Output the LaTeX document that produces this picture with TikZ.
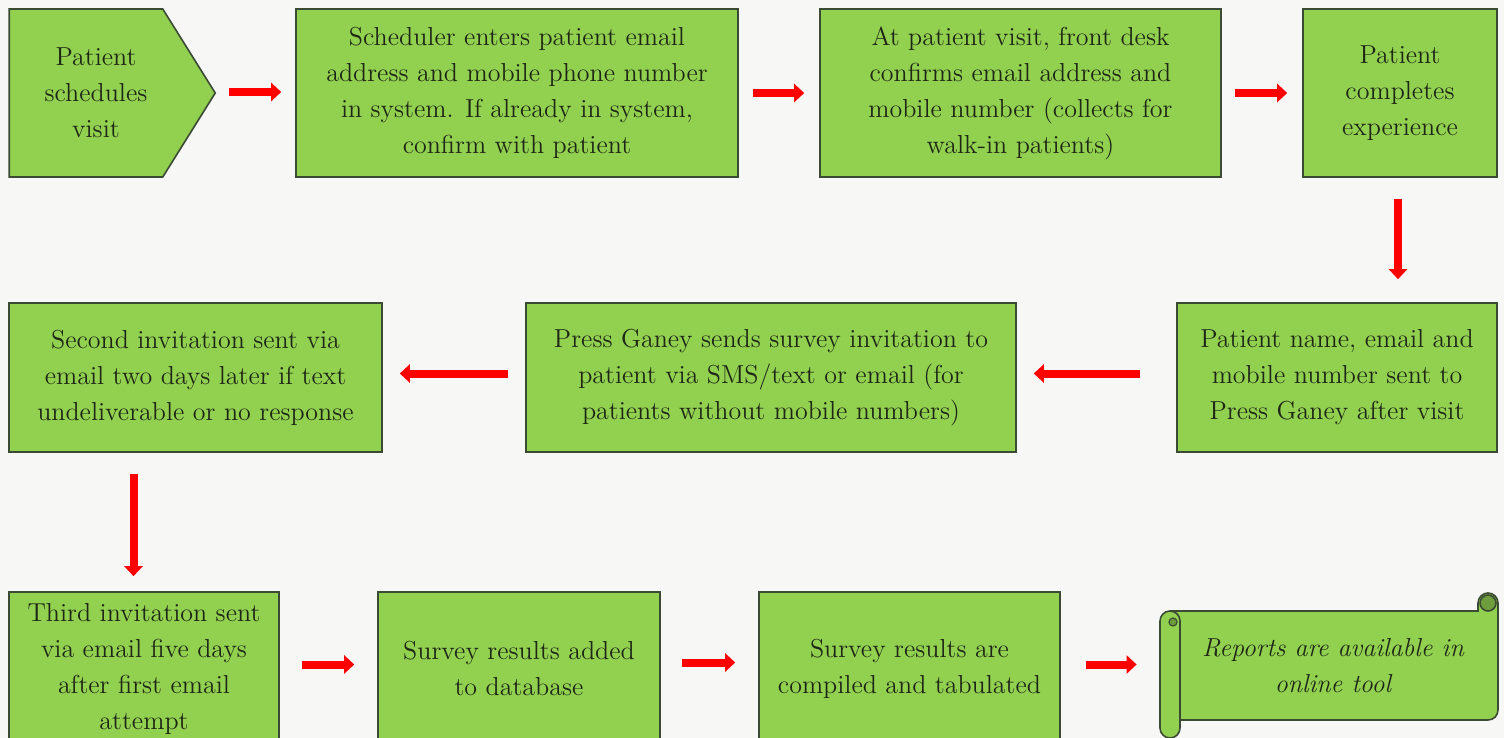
\documentclass[tikz,border=0pt]{standalone}
\usepackage{xcolor}
\usetikzlibrary{arrows.meta,shapes.symbols}

\definecolor{boxgreen}{HTML}{92D050}
\definecolor{boxedge}{HTML}{3B4A33}
\definecolor{inkdark}{HTML}{1E2616}
\definecolor{paper}{HTML}{F7F7F6}
\definecolor{rollgreen}{HTML}{6E9E3C}

\begin{document}
\begin{tikzpicture}[x=0.5pt, y=-0.5pt,
    box/.style={draw=boxedge, line width=0.8pt, fill=boxgreen, text=inkdark,
        align=center, inner sep=0pt, font=\fontsize{13}{18}\selectfont},
    flow/.style={red, line width=4pt, -{Triangle[length=5pt,width=9pt]}}]
    % Page
    \useasboundingbox (0,0) rectangle (1504,738);
    \fill[paper] (0,0) rectangle (1504,738);
    \clip (0,0) rectangle (1504,738);

    % Row 1
    \node[box, signal, signal to=east, signal pointer angle=116,
        minimum width=103pt, minimum height=84pt] (sched) at (86,93)
        {\hspace*{10pt}Patient\\\hspace*{10pt}schedules\\\hspace*{10pt}visit};
    \node[box, minimum width=221pt, minimum height=84pt] (enter) at (517,93)
        {Scheduler enters patient email\\address and mobile phone number\\in system. If already in system,\\confirm with patient};
    \node[box, minimum width=200.5pt, minimum height=84pt] (desk) at (1020.5,93)
        {At patient visit, front desk\\confirms email address and\\mobile number (collects for\\walk-in patients)};
    \node[box, minimum width=97pt, minimum height=84pt] (exper) at (1400,93)
        {Patient\\completes\\experience};

    % Row 2
    \node[box, minimum width=160pt, minimum height=74.5pt] (sendpg) at (1337,377.5)
        {Patient name, email and\\mobile number sent to\\Press Ganey after visit};
    \node[box, minimum width=245pt, minimum height=74.5pt] (invite) at (771,377.5)
        {Press Ganey sends survey invitation to\\patient via SMS/text or email (for\\patients without mobile numbers)};
    \node[box, minimum width=186.5pt, minimum height=74.5pt] (second) at (195.5,377.5)
        {Second invitation sent via\\email two days later if text\\undeliverable or no response};

    % Row 3
    \node[box, minimum width=135pt, minimum height=76.5pt] (third) at (144,668.5)
        {Third invitation sent\\via email five days\\after first email\\attempt};
    \node[box, minimum width=141pt, minimum height=76.5pt] (added) at (519,668.5)
        {Survey results added\\to database};
    \node[box, minimum width=150.5pt, minimum height=76.5pt] (compiled) at (909.5,668.5)
        {Survey results are\\compiled and tabulated};

    % Scroll
    \draw[draw=boxedge, line width=0.8pt, fill=boxgreen]
        (1160,728) -- (1160,621) arc[start angle=180, end angle=270, radius=10]
        -- (1478,611) -- (1478,603) arc[start angle=180, end angle=360, radius=10]
        -- (1498,710) arc[start angle=0, end angle=90, radius=10]
        -- (1180,720) -- (1180,728) arc[start angle=0, end angle=180, radius=10] -- cycle;
    \draw[draw=boxedge, line width=0.8pt] (1170,611) arc[start angle=270, end angle=360, radius=10] -- (1180,720);
    \draw[draw=boxedge, line width=0.6pt, fill=rollgreen] (1173,622) circle[radius=4];
    \draw[draw=boxedge, line width=0.8pt, fill=rollgreen] (1488,603) circle[radius=8];
    \node[text=inkdark, align=center, minimum width=169pt, minimum height=54.5pt,
        font=\fontsize{13}{18}\selectfont\itshape] (reports) at (1329,665.5)
        {\hspace*{4pt}Reports are available in\\\hspace*{4pt}online tool};

    % Arrows
    \draw[flow, shorten <=6.5pt, shorten >=7pt] ([yshift=0.5pt]sched.east) -- ([yshift=0.5pt]enter.west);
    \draw[flow, shorten <=7pt, shorten >=7.5pt] (enter.east) -- (desk.west);
    \draw[flow, shorten <=6.5pt, shorten >=7.5pt] (desk.east) -- (exper.west);
    \draw[flow, shorten <=10.5pt, shorten >=11.5pt] ([xshift=-1pt]exper.south) -- ([xshift=-1pt]exper.south |- sendpg.north);
    \draw[flow, shorten <=18pt, shorten >=8.5pt] ([yshift=2pt]sendpg.west) -- ([yshift=2pt]invite.east);
    \draw[flow, shorten <=8.5pt, shorten >=8.5pt] ([yshift=2pt]invite.west) -- ([yshift=2pt]second.east);
    \draw[flow, shorten <=10.5pt, shorten >=7.5pt] ([xshift=-31pt]second.south) -- ([xshift=-31pt]second.south |- third.north);
    \draw[flow, shorten <=11pt, shorten >=11.5pt] ([yshift=2pt]third.east) -- ([yshift=2pt]added.west);
    \draw[flow, shorten <=10.5pt, shorten >=11.5pt] ([yshift=3pt]added.east) -- ([yshift=3pt]compiled.west);
    \draw[flow, shorten <=12.5pt, shorten >=11.5pt] ([yshift=2pt]compiled.east) -- ([yshift=2pt]compiled.east -| reports.west);
\end{tikzpicture}
\end{document}
